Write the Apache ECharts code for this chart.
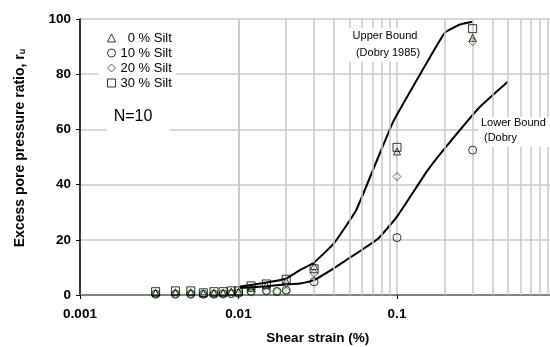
<!DOCTYPE html>
<html>
<head>
<meta charset="utf-8">
<script src="https://cdn.jsdelivr.net/npm/echarts@6/dist/echarts.min.js"></script>
<style>
html,body{margin:0;padding:0;background:#fff;}
#c{width:550px;height:347px;}
</style>
</head>
<body>
<div id="c"></div>
<script>
// ---- data ----
const strain = [0.003,0.004,0.005,0.006,0.007,0.008,0.009,0.01,0.012,0.015,0.0175,0.02,0.03,0.1,0.3];
const silt0  = [0.8,1.0,1.0,0.6,0.8,0.8,1.2,1.2,2.5,3.5,null,5.0,10.5,52,93.2];
const silt10 = [0.3,0.3,0.3,0.3,0.3,0.4,0.5,0.6,1.3,1.6,1.3,1.7,4.8,20.8,52.5];
const silt20 = [0.3,0.3,0.3,0.2,0.3,0.3,0.5,0.5,1.0,1.3,1.3,1.5,7.9,42.9,91.8];
const silt30 = [1.2,1.5,1.5,0.8,1.2,1.2,1.5,1.5,3.3,4.0,null,5.7,9.5,53.5,96.5];

const upperX = [0.01,0.015,0.02,0.0244,0.03,0.04,0.055,0.075,0.095,0.14,0.2,0.25,0.3];
const upperY = [3,4.5,6,9.0,11.8,18.7,30.5,49,63,80,95,98,99];
const lowerX = [0.01,0.015,0.02,0.0244,0.03,0.04,0.046,0.0762,0.1,0.154,0.196,0.334,0.5];
const lowerY = [2.5,3.2,3.8,4.2,5.4,9.7,12,20.5,28.4,44.7,52.5,68.2,77.3];

const seriesNames = ['0 % Silt','10 % Silt','20 % Silt','30 % Silt'];
const xTickLabels = ['0.001','0.01','0.1',''];
const yTickLabels = ['0','20','40','60','80','100'];
const minorGrid = [0.002,0.003,0.004,0.005,0.006,0.007,0.008,0.009,
                   0.02,0.03,0.04,0.05,0.06,0.07,0.08,0.09,
                   0.2,0.3,0.4,0.5,0.6,0.7,0.8,0.9];

// ---- helpers ----
const FONT = "'Liberation Sans', Arial, sans-serif";
const pairs = (xs, ys) => xs.map((x,i)=>[x, ys[i]]).filter(p => p[1] !== null);
const GRID = '#c8c8c8';

function scatter(name, ys, symbol, size, color){
  return {
    name, type:'scatter', data: pairs(strain, ys), symbol, symbolSize: size, z: 5,
    itemStyle:{color:'transparent', borderColor: color, borderWidth: 1},
    emphasis:{disabled:true}
  };
}

const chart = echarts.init(document.getElementById('c'), null, {renderer:'canvas'});
chart.setOption({
  animation:false,
  backgroundColor:'#fff',
  grid:{left:80, top:19, right:-5.5, bottom:52, containLabel:false, outerBoundsMode:'none'},
  legend:{
    data: seriesNames, orient:'vertical', left:98, top:27,
    itemWidth:8, itemHeight:8, itemGap:1,
    padding:[4,4,4,9], backgroundColor:'#fff',
    formatter: n => n === '0 % Silt' ? '  ' + n : n,
    itemStyle:{borderWidth:1},
    textStyle:{fontFamily:FONT, fontSize:13, color:'#000', lineHeight:14},
    selectedMode:false
  },
  xAxis:[{
    type:'log', logBase:10, min:0.001, max:1,
    axisLine:{show:true, onZero:false, lineStyle:{color:'#000', width:1.5}},
    axisTick:{show:true, length:4, lineStyle:{color:'#000'}},
    minorTick:{show:false}, minorSplitLine:{show:false},
    axisLabel:{fontFamily:FONT, fontSize:13.5, fontWeight:'bold', color:'#000', margin:12,
      formatter: v => xTickLabels[Math.round(Math.log10(v)) + 3]},
    splitLine:{show:true, lineStyle:{color:GRID, width:1.5}},
    name:'Shear strain (%)', nameLocation:'middle', nameGap:36,
    nameTextStyle:{fontFamily:FONT, fontSize:13.5, fontWeight:'bold', color:'#000'}
  },{
    type:'value', position:'top', min:0, max:1,
    axisLine:{show:true, lineStyle:{color:'#808080', width:2}},
    axisTick:{show:false}, axisLabel:{show:false}, splitLine:{show:false}
  }],
  yAxis:{
    type:'value', min:0, max:100, interval:20,
    axisLine:{show:true, lineStyle:{color:'#000', width:1.5}},
    axisTick:{show:true, length:4, lineStyle:{color:'#000'}},
    axisLabel:{fontFamily:FONT, fontSize:13.5, fontWeight:'bold', color:'#000', margin:9,
      formatter: v => yTickLabels[Math.round(v/20)]},
    splitLine:{show:true, lineStyle:{color:GRID, width:1.5}}
  },
  series:[
    { name:'grid', type:'line', data:[], z:1, silent:true,
      markLine:{silent:true, symbol:['none','none'], label:{show:false},
        lineStyle:{color:GRID, width:1.5, type:'solid'},
        emphasis:{disabled:true},
        data: minorGrid.map(v => ({xAxis:v}))}
    },
    { name:'Upper Bound', type:'line', data: pairs(upperX, upperY), symbol:'none', smooth:0.12,
      lineStyle:{color:'#000', width:2}, z:4, silent:true },
    { name:'Lower Bound', type:'line', data: pairs(lowerX, lowerY), symbol:'none', smooth:0.12,
      lineStyle:{color:'#000', width:2}, z:4, silent:true },
    scatter(seriesNames[0], silt0, 'triangle', 7, '#000'),
    scatter(seriesNames[1], silt10, 'circle', 8, '#000'),
    scatter(seriesNames[2], silt20, 'diamond', 8, '#0a640a'),
    scatter(seriesNames[3], silt30, 'rect', 8, '#000')
  ],
  graphic:[
    {type:'rect', shape:{x:107, y:103, width:63, height:28}, style:{fill:'#fff'}, z:10},
    {type:'text', x:133, y:117, z:11, style:{text:'N=10', font:'16px ' + FONT, fill:'#000',
      textAlign:'center', textVerticalAlign:'middle', align:'center', verticalAlign:'middle'}},
    {type:'rect', shape:{x:348, y:28, width:76, height:34}, style:{fill:'#fff'}, z:10},
    {type:'text', x:385, y:36, z:11, style:{text:'Upper Bound', font:'11px ' + FONT, fill:'#000',
      textAlign:'center', textVerticalAlign:'middle', align:'center', verticalAlign:'middle'}},
    {type:'text', x:388, y:53, z:11, style:{text:'(Dobry 1985)', font:'11px ' + FONT, fill:'#000',
      textAlign:'center', textVerticalAlign:'middle', align:'center', verticalAlign:'middle'}},
    {type:'rect', shape:{x:479, y:117, width:71, height:30}, style:{fill:'#fff'}, z:10},
    {type:'text', x:481, y:123, z:11, style:{text:'Lower Bound', font:'11px ' + FONT, fill:'#000',
      textAlign:'left', textVerticalAlign:'middle', align:'left', verticalAlign:'middle'}},
    {type:'text', x:484, y:138, z:11, style:{text:'(Dobry', font:'11px ' + FONT, fill:'#000',
      textAlign:'left', textVerticalAlign:'middle', align:'left', verticalAlign:'middle'}},
    {type:'text', x:20, y:148, rotation:Math.PI/2, z:11, style:{
      text:'Excess pore pressure ratio, r{sub|u}', font:'bold 14px ' + FONT, fill:'#000',
      textAlign:'center', textVerticalAlign:'middle', align:'center', verticalAlign:'middle',
      rich:{sub:{fontSize:9, fontWeight:'bold', fontFamily:FONT, verticalAlign:'bottom', padding:[6,0,0,0]}}}}
  ]
});
</script>
</body>
</html>
